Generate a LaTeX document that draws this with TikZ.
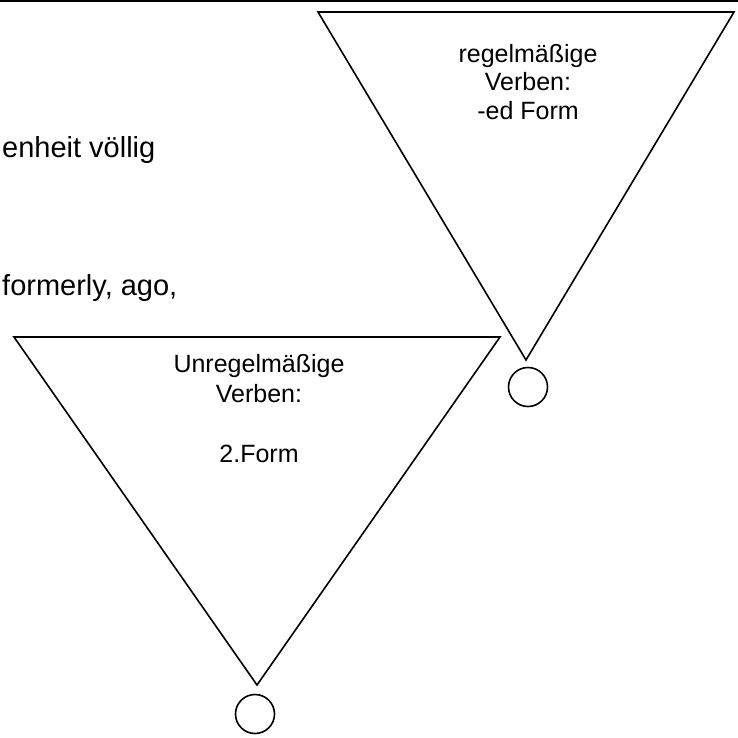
\documentclass[tikz,border=0pt]{standalone}
\usepackage{fontspec}
\setmainfont{Liberation Sans}
\begin{document}
\begin{tikzpicture}[x=1pt, y=-1pt,
        outline/.style={line width=1.6pt, line join=miter},
        tritext/.style={align=center, inner sep=0pt, anchor=base},
        bodytext/.style={anchor=base west, inner sep=0pt, font=\fontsize{29}{34}\selectfont},
        dot/.style={circle, draw, line width=1.6pt, minimum size=39pt, inner sep=0pt}]
        \useasboundingbox (0,0) rectangle (738,737);

        % Add rule at the top
        \coordinate (ruleleft) at (0,1);
        \coordinate (ruleright) at (738,1);
        \draw[outline] (ruleleft) -- (ruleright);

        % Add body text lines
        \node[bodytext] (pastline) at (2,157) {enheit völlig};
        \node[bodytext] (adverbline) at (2,295) {formerly, ago,};

        % Add regular verbs triangle
        \coordinate (regleft) at (318,12);
        \coordinate (regright) at (734,12);
        \coordinate (regtip) at (526,360);
        \draw[outline] (regleft) -- (regright) -- (regtip) -- cycle;
        \node[tritext, font=\fontsize{25}{28.5}\selectfont] (regtext) at (528,119) {regelmäßige\\Verben:\\-ed Form};
        \node[dot] (regdot) at (528,387) {};

        % Add irregular verbs triangle
        \coordinate (irrleft) at (14,337);
        \coordinate (irrright) at (500,337);
        \coordinate (irrtip) at (257,685);
        \draw[outline] (irrleft) -- (irrright) -- (irrtip) -- cycle;
        \node[tritext, font=\fontsize{25}{30}\selectfont] (irrtext) at (259,462) {Unregelmäßige\\Verben:\\[30pt]2.Form};
        \node[dot] (irrdot) at (255,714) {};
    \end{tikzpicture}
\end{document}
